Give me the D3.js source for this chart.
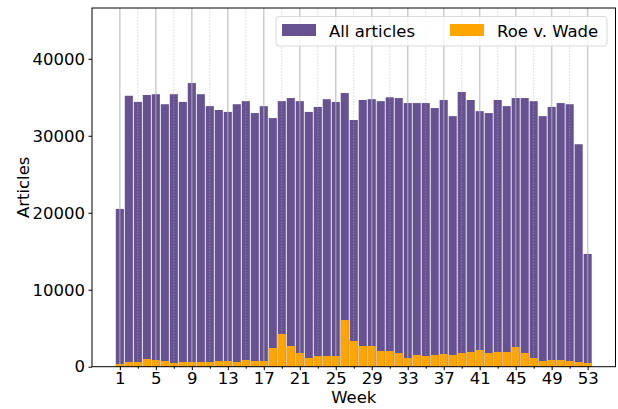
<!DOCTYPE html>
<html><head><meta charset="utf-8">
<script src="https://cdn.jsdelivr.net/npm/d3@7"></script>
<style>body{margin:0;background:#fff}svg{display:block}text{font-family:"DejaVu Sans",sans-serif}</style>
</head><body><svg id="c" width="618" height="409"></svg>
<script>
const weeks = d3.range(1, 54);
const allArticles = [20500,35200,34400,35300,35400,34100,35400,34400,36850,35400,
33850,33350,33100,34100,34500,32950,33850,32300,34500,34900,
34500,33100,33750,34750,34400,35550,32050,34650,34750,34500,
35000,34900,34250,34250,34250,33600,34650,32550,35700,34650,
33200,32950,34650,33850,34900,34900,34500,32550,33750,34250,
34100,28900,14650];
const roeVWade = [350,610,610,1000,870,740,480,610,610,610,
610,740,740,610,870,740,740,2430,4250,2690,
1780,1130,1390,1390,1390,6060,3340,2690,2690,2040,
2040,1780,1130,1520,1390,1520,1650,1520,1780,1910,
2170,1780,1910,1910,2560,1780,1130,740,870,870,
740,610,480];
const majorTicks = d3.range(1, 54, 4);
const minorTicks = d3.range(3, 54, 4);
const yTicks = [0,10000,20000,30000,40000];
const seriesNames = ["All articles","Roe v. Wade"];
const colors = ["#665191","#ffa500"];

const svg = d3.select("#c");
const m = {l:92, r:618-615.5, t:8, b:409-366.7};
const W = 618, H = 409;
const FS = 16.5;
const x = d3.scaleLinear().domain([-2.095, 56.095]).range([m.l, W-m.r]);
const y = d3.scaleLinear().domain([0, 46600]).range([H-m.b, m.t]);
const bw = 0.9;

// bars
svg.append("g").selectAll("rect").data(weeks).join("rect")
  .attr("x", (d)=>x(d-bw/2)).attr("width", x(bw)-x(0))
  .attr("y", (d,i)=>y(allArticles[i])).attr("height", (d,i)=>y(0)-y(allArticles[i]))
  .attr("fill", colors[0]);
svg.append("g").selectAll("rect").data(weeks).join("rect")
  .attr("x", (d)=>x(d-bw/2)).attr("width", x(bw)-x(0))
  .attr("y", (d,i)=>y(roeVWade[i])).attr("height", (d,i)=>y(0)-y(roeVWade[i]))
  .attr("fill", colors[1]);

// gridlines (on top)
svg.append("g").selectAll("line").data(majorTicks).join("line")
  .attr("x1", d=>x(d)).attr("x2", d=>x(d)).attr("y1", y.range()[0]).attr("y2", m.t)
  .attr("stroke", "#b0b0b0").attr("stroke-opacity", 0.65).attr("stroke-width", 1.5);
svg.append("g").selectAll("line").data(minorTicks).join("line")
  .attr("x1", d=>x(d)).attr("x2", d=>x(d)).attr("y1", y.range()[0]).attr("y2", m.t)
  .attr("stroke", "#b0b0b0").attr("stroke-opacity", 0.5).attr("stroke-width", 1)
  .attr("stroke-dasharray", "1.5,1.5");

// axes
const xAxis = svg.append("g").attr("transform", `translate(0,${y(0)})`)
  .call(d3.axisBottom(x).tickValues(majorTicks).tickSize(3.5).tickPadding(2.5).tickFormat(d3.format("d")));
svg.append("g").attr("transform", `translate(0,${y(0)})`)
  .call(d3.axisBottom(x).tickValues(minorTicks).tickSize(2).tickFormat(""))
  .call(g=>g.select(".domain").remove());
const yAxis = svg.append("g").attr("transform", `translate(${m.l},0)`)
  .call(d3.axisLeft(y).tickValues(yTicks).tickSize(3.5).tickPadding(3.5).tickFormat(d3.format("d")));
[xAxis, yAxis].forEach(g=>{
  g.selectAll("text").attr("font-size", FS).attr("fill", "#000");
  g.selectAll("line").attr("stroke", "#000");
  g.select(".domain").remove();
});
// frame
svg.append("rect").attr("x", m.l).attr("y", m.t).attr("width", W-m.r-m.l).attr("height", y(0)-m.t)
  .attr("fill", "none").attr("stroke", "#000").attr("stroke-width", 1);

svg.append("text").attr("x", (m.l+W-m.r)/2).attr("y", 402.5).attr("text-anchor", "middle")
  .attr("font-size", FS).text("Week");
svg.append("text").attr("transform", `translate(29,${(m.t+y(0))/2}) rotate(-90)`)
  .attr("text-anchor", "middle").attr("font-size", FS).text("Articles");

// legend
const lg = svg.append("g");
lg.append("rect").attr("x", 276).attr("y", 16.5).attr("width", 331).attr("height", 29.5).attr("rx", 3)
  .attr("fill", "#fff").attr("fill-opacity", 0.8).attr("stroke", "#d9d9d9");
const lx = [282, 450];
seriesNames.forEach((n,i)=>{
  lg.append("rect").attr("x", lx[i]).attr("y", 24).attr("width", 34).attr("height", 12).attr("fill", colors[i]);
  lg.append("text").attr("x", lx[i]+47).attr("y", 36.5).attr("font-size", FS).text(n);
});
</script></body></html>
